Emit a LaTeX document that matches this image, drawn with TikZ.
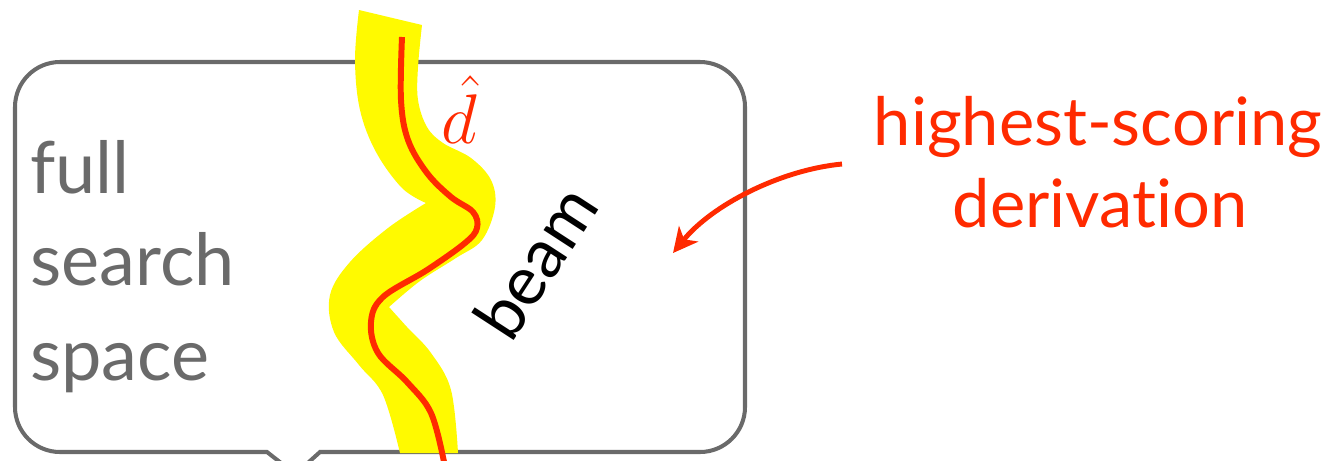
\documentclass[tikz,border=0pt]{standalone}
\usepackage{fix-cm}
\usepackage{fontspec}
\setmainfont{Lato}[Ligatures=NoCommon]
\usepackage{tikz}
\usetikzlibrary{arrows.meta,positioning}
\definecolor{boxgrey}{RGB}{106,106,106}
\definecolor{hotred}{RGB}{255,42,0}
\definecolor{beamyellow}{RGB}{255,250,0}

\begin{document}
\begin{tikzpicture}[x=0.02cm, y=-0.02cm,
  boxline/.style={draw=boxgrey, line width=2.3pt},
  greylabel/.style={text=boxgrey, font=\fontsize{41}{49}\selectfont, inner sep=0pt},
  redlabel/.style={text=hotred, font=\fontsize{38}{46}\selectfont, inner sep=0pt}]
  \useasboundingbox (0,0) rectangle (1334,460);

  % Search space (rounded box with a notch below)
  \draw[boxline] (290,470) -- (267,452) -- (60,452)
    arc[start angle=90, end angle=180, radius=45] -- (15,107)
    arc[start angle=180, end angle=270, radius=45] -- (700,62)
    arc[start angle=270, end angle=360, radius=45] -- (745,407)
    arc[start angle=0, end angle=90, radius=45] -- (320,452) -- (300,470);

  % The beam (yellow band)
  \fill[beamyellow]
    plot[smooth, tension=0.6] coordinates
      {(359,10) (355,60) (360,110) (376,152) (402,188) (426,203)}
    -- plot[smooth, tension=0.6] coordinates
      {(426,203) (388,228) (350,262) (330,295) (334,332) (359,365) (383,395) (400,453)}
    -- plot[smooth, tension=0.6] coordinates
      {(458,453) (451,390) (431,353) (407,327) (389,307)}
    -- plot[smooth, tension=0.6] coordinates
      {(389,307) (420,281) (456,258) (482,240) (495,207) (491,180) (471,158)
       (443,143) (427,127) (418,100) (418,67) (422,25)}
    -- cycle;

  % Best derivation
  \draw[hotred, line width=3.4pt]
    plot[smooth, tension=0.6] coordinates
    {(402,37) (401,100) (408,140) (427,173) (451,197) (473,212) (477,228)
     (465,243) (427,270) (383,297) (371,322) (378,353) (407,382) (431,413) (444,462)};
  \node[text=hotred, font=\fontsize{40}{46}\selectfont, inner sep=0pt, anchor=base]
    (dhat) at (459,143) {$\hat{d}$};

  % Labels
  \node[greylabel, anchor=base west] (full) at (30,193) {full};
  \node[greylabel, anchor=base west] (search) at (30,285) {search};
  \node[greylabel, anchor=base west] (space) at (30,380) {space};
  \node[rotate=57, font=\fontsize{39}{47}\selectfont, inner sep=0pt] (beam) at (535,262) {beam};

  \node[redlabel, anchor=base] (highest) at (1098,145) {highest-scoring};
  \node[redlabel, anchor=base] (deriv) at (1100,227) {derivation};

  % Pointer to the box
  \coordinate (arrfrom) at (842,164);
  \coordinate (arrto) at (673,253);
  \draw[hotred, line width=2.8pt, -{Stealth[length=14pt, width=14pt, inset=4pt]}]
    (arrfrom) .. controls (780,170) and (712,205) .. (arrto);
\end{tikzpicture}
\end{document}
